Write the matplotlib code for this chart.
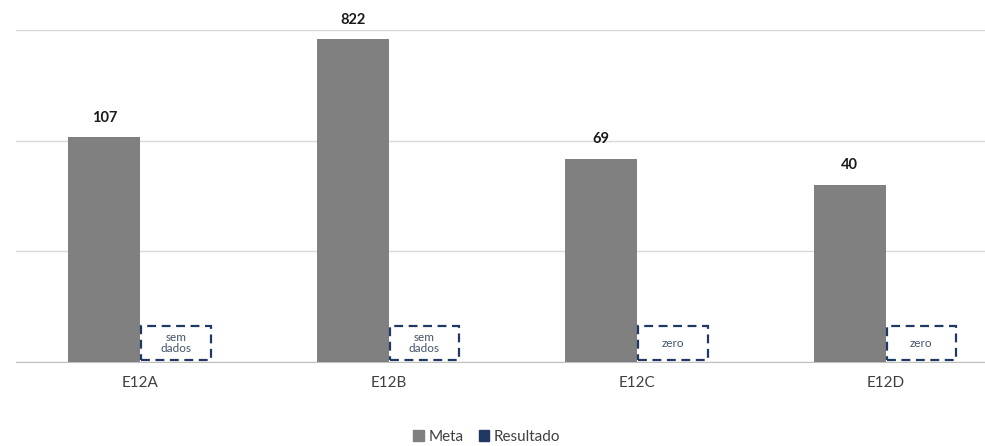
import numpy as np
import matplotlib.pyplot as plt
from matplotlib.patches import Rectangle, Patch
import matplotlib.transforms as mtransforms

# dados
categorias = ["E12A", "E12B", "E12C", "E12D"]
meta = [107, 822, 69, 40]
resultado = [np.nan, np.nan, np.nan, np.nan]
notas_resultado = ["sem\ndados", "sem\ndados", "zero", "zero"]

COR_META = "#808080"
COR_RESULTADO = "#1F3864"

plt.rcParams['font.family'] = ['Lato', 'DejaVu Sans']

fig = plt.figure(figsize=(9.85, 4.46), dpi=100)
ax = fig.add_axes([16 / 985, 1 - 362 / 446, 1 - 16 / 985, 332 / 446])

x = np.arange(len(categorias))
largura = 0.29

barras = ax.bar(x - largura / 2, meta, width=largura, color=COR_META, zorder=3)
ax.bar(x + largura / 2, np.nan_to_num(resultado, nan=1), width=largura,
       color=COR_RESULTADO, zorder=3)

ax.set_yscale('log')
ax.set_ylim(1, 1000)
ax.set_xlim(-0.5, 3.40)

# rótulos de valores
for b, v in zip(barras, meta):
    ax.annotate(f"{v}", (b.get_x() + b.get_width() / 2, v),
                xytext=(0, 9), textcoords='offset points',
                ha='center', va='bottom', fontsize=10.5, fontweight='bold',
                color='#1a1a1a')

# caixas tracejadas para "sem dados" / "zero"
trans = mtransforms.blended_transform_factory(ax.transData, ax.transAxes)
for xi, nota in zip(x, notas_resultado):
    x0 = xi + 0.004
    w = largura - 0.01
    ax.add_patch(Rectangle((x0, 0.007), w, 0.10, transform=trans,
                           fill=False, edgecolor=COR_RESULTADO, lw=1.6,
                           linestyle=(0, (4, 2.5)), zorder=4, clip_on=False))
    ax.text(x0 + w / 2, 0.057, nota, transform=trans, ha='center',
            va='center', fontsize=8.5, color='#44546A', linespacing=1.05,
            zorder=5)

# grade
ax.yaxis.grid(True, which='major', color='#D9D9D9', lw=1, zorder=0)
ax.yaxis.grid(False, which='minor')
ax.set_yticks([1, 10, 100, 1000])
ax.tick_params(axis='y', which='both', left=False, labelleft=False)
ax.tick_params(axis='x', length=0, pad=10, labelsize=11, colors='#404040')
ax.set_xticks(x)
ax.set_xticklabels(categorias)
for s in ['top', 'right', 'left']:
    ax.spines[s].set_visible(False)
ax.spines['bottom'].set_color('#BFBFBF')

handles = [Patch(color=COR_META, label='Meta'),
           Patch(color=COR_RESULTADO, label='Resultado')]
fig.legend(handles=handles, loc='center', bbox_to_anchor=(0.494, 1 - 437 / 446),
           ncol=2, frameon=False, fontsize=11, handlelength=0.7,
           handleheight=0.7, handletextpad=0.3, columnspacing=1.0,
           labelcolor='#404040')

fig.savefig('out.png', dpi=100)
